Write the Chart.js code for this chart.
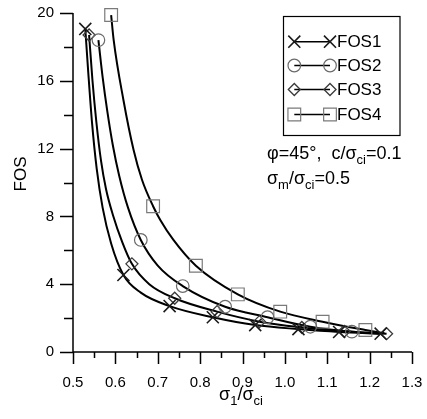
<!DOCTYPE html>
<html>
<head>
<meta charset="utf-8">
<script src="https://cdn.jsdelivr.net/npm/chart.js@4"></script>
<style>
  html, body { margin: 0; padding: 0; background: #fff; }
  #wrap { width: 427px; height: 419px; position: relative; }
</style>
</head>
<body>
<div id="wrap"><canvas id="c" width="427" height="419"></canvas></div>
<script>
// ---- data ----
const seriesNames = ['FOS1', 'FOS2', 'FOS3', 'FOS4'];

// curve samples (sigma1/sigma_ci, FOS)
const fos1CurveX = [0.529, 0.536, 0.545, 0.556, 0.570, 0.590, 0.619, 0.660, 0.728, 0.830, 0.930, 1.032, 1.128, 1.226];
const fos1CurveY = [19.06, 16.5, 13.5, 10.8, 8.5, 6.4, 4.54, 3.5, 2.71, 2.05, 1.59, 1.35, 1.18, 1.08];
const fos2CurveX = [0.560, 0.570, 0.581, 0.594, 0.609, 0.630, 0.660, 0.700, 0.759, 0.859, 0.959, 1.060, 1.158, 1.230];
const fos2CurveY = [18.4, 16.2, 14.2, 12.2, 10.4, 8.5, 6.61, 5.1, 3.89, 2.67, 2.05, 1.49, 1.20, 1.08];
const fos3CurveX = [0.538, 0.546, 0.555, 0.566, 0.578, 0.594, 0.616, 0.639, 0.680, 0.740, 0.840, 0.940, 1.040, 1.140, 1.240];
const fos3CurveY = [18.7, 16.0, 13.6, 11.3, 9.6, 8.1, 6.5, 5.2, 4.0, 3.17, 2.38, 1.79, 1.45, 1.22, 1.08];
const fos4CurveX = [0.590, 0.596, 0.619, 0.643, 0.663, 0.689, 0.706, 0.737, 0.790, 0.889, 0.989, 1.089, 1.190, 1.235];
const fos4CurveY = [19.88, 18.4, 14.87, 11.92, 10.15, 8.6, 7.79, 6.61, 5.09, 3.40, 2.38, 1.79, 1.30, 1.10];

// marker positions
const fos1MarkX = [0.529, 0.619, 0.728, 0.830, 0.930, 1.032, 1.128, 1.226];
const fos1MarkY = [19.06, 4.54, 2.71, 2.05, 1.59, 1.35, 1.18, 1.08];
const fos2MarkX = [0.560, 0.660, 0.759, 0.859, 0.959, 1.060, 1.158];
const fos2MarkY = [18.4, 6.61, 3.89, 2.67, 2.05, 1.49, 1.20];
const fos3MarkX = [0.538, 0.639, 0.740, 0.840, 0.940, 1.040, 1.140, 1.240];
const fos3MarkY = [18.7, 5.2, 3.17, 2.38, 1.79, 1.45, 1.22, 1.08];
const fos4MarkX = [0.590, 0.689, 0.790, 0.889, 0.989, 1.089, 1.190];
const fos4MarkY = [19.88, 8.6, 5.09, 3.40, 2.38, 1.79, 1.30];

const xTickLabels = ['0.5', '0.6', '0.7', '0.8', '0.9', '1.0', '1.1', '1.2', '1.3'];
const yTickLabels = ['0', '4', '8', '12', '16', '20'];

// ---- styling ----
const FONT = '"Liberation Sans", Arial, Helvetica, sans-serif';
const styles = [
  { pointStyle: 'crossRot', radius: 8.5, color: '#1a1a1a', width: 1.6 },
  { pointStyle: 'circle',   radius: 6.3, color: '#6a6a6a', width: 1.2 },
  { pointStyle: 'rectRot',  radius: 6,   color: '#3a3a3a', width: 1.3 },
  { pointStyle: 'rect',     radius: 9,   color: '#7a7a7a', width: 1.2 }
];

const pairs = (xs, ys) => xs.map((x, i) => ({ x: x, y: ys[i] }));
const curves = [
  pairs(fos1CurveX, fos1CurveY), pairs(fos2CurveX, fos2CurveY),
  pairs(fos3CurveX, fos3CurveY), pairs(fos4CurveX, fos4CurveY)
];
const marks = [
  pairs(fos1MarkX, fos1MarkY), pairs(fos2MarkX, fos2MarkY),
  pairs(fos3MarkX, fos3MarkY), pairs(fos4MarkX, fos4MarkY)
];

const datasets = [];
curves.forEach((d, i) => {
  datasets.push({
    label: seriesNames[i] + ' line', data: d, showLine: true,
    borderColor: '#000', borderWidth: 2, pointRadius: 0, pointHoverRadius: 0,
    cubicInterpolationMode: 'monotone', fill: false, order: 2
  });
});
marks.forEach((d, i) => {
  const s = styles[i];
  datasets.push({
    label: seriesNames[i], data: d, showLine: false,
    pointStyle: s.pointStyle, pointRadius: s.radius, pointHoverRadius: s.radius,
    pointBorderColor: s.color, pointBackgroundColor: 'rgba(0,0,0,0)',
    pointBorderWidth: s.width, clip: false, order: 1
  });
});

function drawRich(ctx, parts, x, y, size, align) {
  const subSize = Math.round(size * 0.72);
  let total = 0;
  parts.forEach(p => {
    ctx.font = (p.sub ? subSize : size) + 'px ' + FONT;
    total += ctx.measureText(p.t).width;
  });
  let cx = align === 'center' ? x - total / 2 : x;
  ctx.textBaseline = 'alphabetic';
  ctx.textAlign = 'left';
  parts.forEach(p => {
    ctx.font = (p.sub ? subSize : size) + 'px ' + FONT;
    ctx.fillText(p.t, cx, p.sub ? y + size * 0.3 : y);
    cx += ctx.measureText(p.t).width;
  });
}

function drawMarker(ctx, style, x, y) {
  const r = style.radius;
  ctx.save();
  ctx.strokeStyle = style.color;
  ctx.lineWidth = style.width;
  ctx.beginPath();
  if (style.pointStyle === 'crossRot') {
    const o = r * Math.SQRT1_2;
    ctx.moveTo(x - o, y - o); ctx.lineTo(x + o, y + o);
    ctx.moveTo(x + o, y - o); ctx.lineTo(x - o, y + o);
  } else if (style.pointStyle === 'circle') {
    ctx.arc(x, y, r, 0, Math.PI * 2);
  } else if (style.pointStyle === 'rectRot') {
    ctx.moveTo(x - r, y); ctx.lineTo(x, y - r); ctx.lineTo(x + r, y); ctx.lineTo(x, y + r); ctx.closePath();
  } else {
    const s = r * Math.SQRT1_2;
    ctx.rect(x - s, y - s, 2 * s, 2 * s);
  }
  ctx.stroke();
  ctx.restore();
}

const decor = {
  id: 'decor',
  afterDraw(chart) {
    const ctx = chart.ctx;
    const xs = chart.scales.x, ys = chart.scales.y;
    const a = chart.chartArea;
    ctx.save();
    ctx.strokeStyle = '#000';
    ctx.lineWidth = 1.5;
    // axis lines
    ctx.beginPath();
    ctx.moveTo(a.left, a.top); ctx.lineTo(a.left, a.bottom); ctx.lineTo(a.right, a.bottom);
    ctx.stroke();
    // x ticks (major every 0.1, minor between)
    ctx.beginPath();
    for (let i = 0; i <= 16; i++) {
      const v = 0.5 + i * 0.05;
      const px = Math.round(xs.getPixelForValue(v)) + 0.5;
      const len = i % 2 === 0 ? 12 : 6;
      ctx.moveTo(px, a.bottom); ctx.lineTo(px, a.bottom + len);
    }
    // y ticks (major every 4, minor every 2)
    for (let i = 0; i <= 10; i++) {
      const v = i * 2;
      const py = Math.round(ys.getPixelForValue(v)) + 0.5;
      const len = i % 2 === 0 ? 13 : 9;
      ctx.moveTo(a.left, py); ctx.lineTo(a.left - len, py);
    }
    ctx.stroke();

    ctx.fillStyle = '#000';
    // axis titles
    drawRich(ctx, [{ t: 'σ' }, { t: '1', sub: true }, { t: '/σ' }, { t: 'ci', sub: true }], 241, 400, 18, 'center');
    ctx.save();
    ctx.translate(26, 174);
    ctx.rotate(-Math.PI / 2);
    ctx.font = '17px ' + FONT;
    ctx.textAlign = 'center';
    ctx.textBaseline = 'alphabetic';
    ctx.fillText('FOS', 0, 0);
    ctx.restore();

    // legend box
    ctx.lineWidth = 1.2;
    ctx.strokeStyle = '#000';
    ctx.strokeRect(283.5, 16.5, 116.5, 119);
    const rowsY = [41.7, 65.5, 89.5, 114.5];
    seriesNames.forEach((name, i) => {
      const y = rowsY[i];
      ctx.beginPath();
      ctx.lineWidth = 1.5;
      ctx.strokeStyle = '#000';
      ctx.moveTo(294.3, y); ctx.lineTo(330, y);
      ctx.stroke();
      drawMarker(ctx, styles[i], 294.3, y);
      drawMarker(ctx, styles[i], 330, y);
      ctx.fillStyle = '#000';
      ctx.font = '17px ' + FONT;
      ctx.textAlign = 'left';
      ctx.textBaseline = 'middle';
      ctx.fillText(name, 337, y + 1);
    });

    // annotation
    ctx.fillStyle = '#000';
    drawRich(ctx, [{ t: 'φ=45°,  c/σ' }, { t: 'ci', sub: true }, { t: '=0.1' }], 267, 159, 18, 'left');
    drawRich(ctx, [{ t: 'σ' }, { t: 'm', sub: true }, { t: '/σ' }, { t: 'ci', sub: true }, { t: '=0.5' }], 267, 184, 18, 'left');
    ctx.restore();
  }
};

function zeroPad(s) { s.paddingLeft = 0; s.paddingRight = 0; s.paddingTop = 0; s.paddingBottom = 0; }

new Chart(document.getElementById('c'), {
  type: 'scatter',
  data: { datasets: datasets },
  options: {
    responsive: false,
    animation: false,
    events: [],
    layout: { padding: { top: 13, right: 15, left: 0, bottom: 0 } },
    plugins: { legend: { display: false }, tooltip: { enabled: false } },
    scales: {
      x: {
        type: 'linear', min: 0.5, max: 1.3,
        afterFit: s => { s.height = 67; zeroPad(s); },
        afterBuildTicks: s => { s.ticks = xTickLabels.map(t => ({ value: parseFloat(t) })); },
        grid: { display: false, drawTicks: false },
        border: { display: false },
        ticks: {
          padding: 22, color: '#000', font: { family: FONT, size: 15 },
          callback: (v) => xTickLabels.find(t => Math.abs(parseFloat(t) - v) < 1e-6)
        }
      },
      y: {
        type: 'linear', min: 0, max: 20,
        afterFit: s => { s.width = 73; zeroPad(s); },
        afterBuildTicks: s => { s.ticks = yTickLabels.map(t => ({ value: parseFloat(t) })); },
        grid: { display: false, drawTicks: false },
        border: { display: false },
        ticks: {
          padding: 19, color: '#000', font: { family: FONT, size: 15 },
          callback: (v) => yTickLabels.find(t => Math.abs(parseFloat(t) - v) < 1e-6)
        }
      }
    }
  },
  plugins: [decor]
});
</script>
</body>
</html>
